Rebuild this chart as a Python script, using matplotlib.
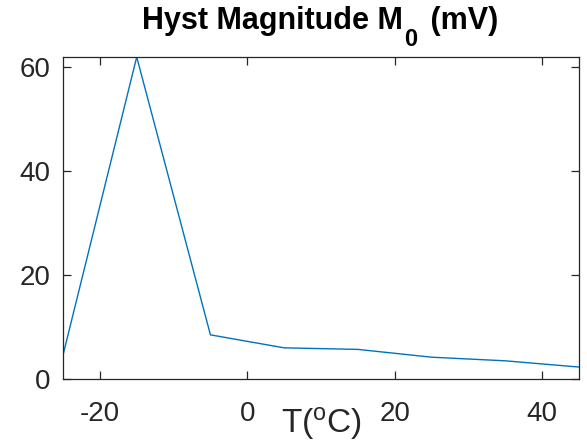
import matplotlib
matplotlib.use('Agg')
import matplotlib.pyplot as plt

# Temperature steps (degC) and hysteresis magnitude (mV)
temps = [-25, -15, -5, 5, 15, 25, 35, 45]
magnitude = [4.6, 62.0, 8.5, 6.0, 5.7, 4.2, 3.5, 2.3]
xticks = [-20, 0, 20, 40]
yticks = [0, 20, 40, 60]
title_parts = ['Hyst Magnitude M', '0', ' (mV)']

plt.rcParams['font.family'] = ['Liberation Sans', 'DejaVu Sans']
plt.rcParams['axes.unicode_minus'] = False
plt.rcParams['mathtext.fontset'] = 'custom'
plt.rcParams['mathtext.rm'] = 'Liberation Sans'
plt.rcParams['mathtext.it'] = 'Liberation Sans'

W, H = 587, 446
fig = plt.figure(figsize=(W / 100, H / 100), dpi=100)
ax = fig.add_axes([63 / W, 1 - 379 / H, 516 / W, 322 / H])

ax.plot(temps, magnitude, color=(0, 0.447, 0.741), linewidth=1.0)

ax.set_xlim(-25, 45)
ax.set_ylim(0, max(magnitude))
ax.set_xticks(xticks)
ax.set_yticks(yticks)

dark = (0.15, 0.15, 0.15)
for s in ax.spines.values():
    s.set_color(dark)
    s.set_linewidth(0.9)
ax.tick_params(direction='in', length=6, width=0.9, color=dark, labelcolor=dark,
               labelsize=20, top=True, right=True)
ax.tick_params(axis='x', pad=16)
ax.tick_params(axis='y', pad=9)

ax.set_xlabel(r'T($^\mathrm{o}$C)', fontsize=24, color=dark, labelpad=-16)

# title built from pieces so the subscript sits low like MATLAB's
renderer = fig.canvas.get_renderer()
texts = []
widths = []
for i, part in enumerate(title_parts):
    size = 17 if i == 1 else 22
    t = fig.text(0, 0, part, fontsize=size, fontweight='bold', ha='left', va='baseline')
    texts.append(t)
    widths.append(t.get_window_extent(renderer).width)
gaps = [0, 1, 5]
total = sum(widths) + sum(gaps)
x = 320 - total / 2
y_base = H - 29
for i, t in enumerate(texts):
    dy = -17 if i == 1 else 0
    x += gaps[i]
    t.set_position((x / W, (y_base + dy) / H))
    x += widths[i]

fig.savefig('out.png', dpi=100)
